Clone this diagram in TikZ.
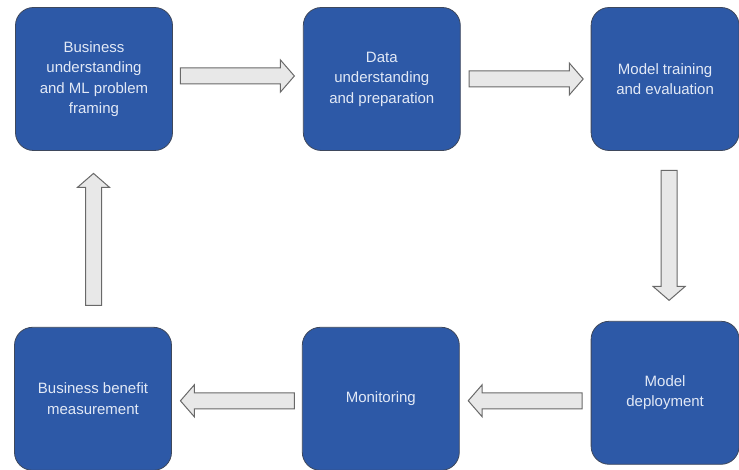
\documentclass[tikz,border=0pt]{standalone}
\usepackage{fontspec}
\setmainfont{Liberation Sans}
\usepackage{tikz}
\usetikzlibrary{positioning, shapes.arrows}
\definecolor{stageblue}{RGB}{45,89,167}
\definecolor{stageedge}{RGB}{62,72,92}
\definecolor{stagetext}{RGB}{226,233,246}
\definecolor{flowfill}{RGB}{232,232,232}
\definecolor{flowedge}{RGB}{105,105,105}

\begin{document}
\begin{tikzpicture}[
  x=1pt, y=-1pt,
  stagebox/.style={draw=stageedge, line width=0.8pt, fill=stageblue, rounded corners=18pt,
              minimum width=157pt, minimum height=143pt, inner sep=0pt,
              font=\fontsize{15}{20.5}\selectfont, text=stagetext, align=center},
  flowarr/.style={single arrow, draw=flowedge, line width=1pt, fill=flowfill,
              inner sep=7.5pt, single arrow head extend=8pt,
              single arrow tip angle=98, minimum height=114pt}
]
\useasboundingbox (0,0) rectangle (739,470);
\node[stagebox] (bus) at (94,79) {Business\\understanding\\and ML problem\\framing};
\node[stagebox, right=130pt of bus] (data) {Data\\understanding\\and preparation};
\node[stagebox, minimum width=148pt, right=130pt of data] (train) {Model training\\and evaluation};
\node[stagebox, minimum width=148pt, below=170pt of train] (deploy) {Model\\deployment};
\node[stagebox, left=131pt of deploy, yshift=-6pt] (monit) {Monitoring};
\node[stagebox, left=130pt of monit] (benefit) {Business benefit\\measurement};
\path (bus) -- node[flowarr, xshift=-4pt, yshift=3pt] (a1) {} (data);
\path (data) -- node[flowarr, xshift=-3pt] (a2) {} (train);
\path (train) -- node[flowarr, xshift=4pt, yshift=4pt, rotate=-90, minimum height=130pt] (a3) {} (deploy);
\path (deploy) -- node[flowarr, xshift=3.5pt, yshift=-5pt, rotate=180] (a4) {} (monit);
\path (monit) -- node[flowarr, xshift=4pt, yshift=-2pt, rotate=180] (a5) {} (benefit);
\path (benefit) -- node[flowarr, yshift=-4pt, rotate=90, minimum height=132pt] (a6) {} (bus);
\end{tikzpicture}
\end{document}
